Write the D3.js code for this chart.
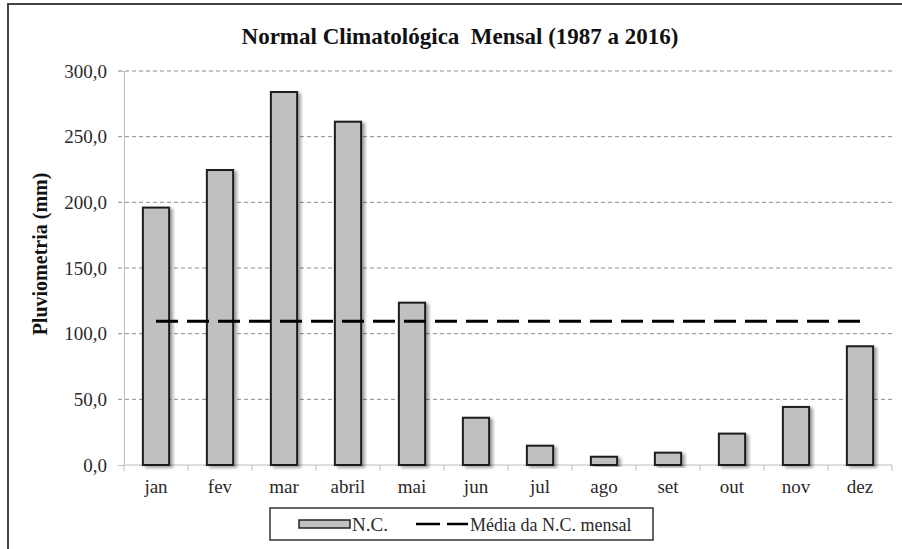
<!DOCTYPE html>
<html>
<head>
<meta charset="utf-8">
<script src="https://cdn.jsdelivr.net/npm/d3@7"></script>
<style>
  body { margin: 0; background: #fff; }
  svg { display: block; font-family: "Liberation Serif", "Times New Roman", serif; }
</style>
</head>
<body>
<svg id="chart" width="902" height="549"></svg>
<script>
// values
const months = ["jan", "fev", "mar", "abril", "mai", "jun", "jul", "ago", "set", "out", "nov", "dez"];
const rain = [196.0, 224.6, 284.0, 261.4, 123.6, 36.0, 14.7, 6.3, 9.4, 23.9, 44.2, 90.4];
const yTicks = [0, 50, 100, 150, 200, 250, 300];

const svg = d3.select("#chart");

// drop shadow for the bars
const defs = svg.append("defs");
defs.append("filter")
  .attr("id", "shadow")
  .attr("x", "-30%").attr("y", "-10%").attr("width", "160%").attr("height", "130%")
  .append("feDropShadow")
  .attr("dx", 3).attr("dy", 2)
  .attr("stdDeviation", 1.8)
  .attr("flood-color", "#000")
  .attr("flood-opacity", 0.35);

// outer frame
svg.append("rect")
  .attr("x", 8).attr("y", 4)
  .attr("width", 910).attr("height", 570)
  .attr("fill", "none")
  .attr("stroke", "#444")
  .attr("stroke-width", 2);

// scales
var x = d3.scaleBand()
  .domain(months)
  .range([124, 892])
  .paddingInner(0.59)
  .paddingOuter(0.295);

var y = d3.scaleLinear()
  .domain([0, 300])
  .range([465, 71]);

const fmt = v => d3.format(".1f")(v).replace(".", ",");

// gridlines (dashed), the 0 line is the axis
svg.append("g")
  .selectAll("line")
  .data(yTicks.filter(d => d > 0))
  .join("line")
  .attr("x1", 118).attr("x2", 892)
  .attr("y1", d => y(d)).attr("y2", d => y(d))
  .attr("stroke", "#8c8c8c")
  .attr("stroke-width", 1)
  .attr("stroke-dasharray", "4,3");

// y axis
var y_axis = d3.axisLeft(y)
  .tickValues(yTicks)
  .tickSize(6)
  .tickFormat(fmt);

const gy = svg.append("g")
  .attr("transform", "translate(124,0)")
  .call(y_axis);
gy.attr("font-family", null);
gy.select(".domain").attr("stroke", "#bdbdbd");
gy.selectAll(".tick line").attr("stroke", d => d === 0 ? "#bdbdbd" : "none");
gy.selectAll(".tick text")
  .attr("x", -17)
  .attr("font-size", 19)
  .attr("fill", "#2a2a2a");

// x axis: ticks on category boundaries
const step = x.step();
const bounds = d3.range(months.length + 1).map(i => 124 + i * step);
svg.append("line")
  .attr("x1", 124).attr("x2", 892)
  .attr("y1", y(0)).attr("y2", y(0))
  .attr("stroke", "#bdbdbd");
svg.append("g")
  .selectAll("line")
  .data(bounds)
  .join("line")
  .attr("x1", d => d).attr("x2", d => d)
  .attr("y1", y(0)).attr("y2", y(0) + 6)
  .attr("stroke", "#bdbdbd");

svg.append("g")
  .selectAll("text")
  .data(months)
  .join("text")
  .attr("x", d => x(d) + x.bandwidth() / 2)
  .attr("y", 493)
  .attr("text-anchor", "middle")
  .attr("font-size", 19)
  .attr("fill", "#2a2a2a")
  .text(d => d);

// bars
svg.append("g")
  .selectAll("rect")
  .data(months.map((m, i) => ({ m: m, v: rain[i] })))
  .join("rect")
  .attr("x", d => x(d.m))
  .attr("y", d => y(d.v))
  .attr("width", x.bandwidth())
  .attr("height", d => y(0) - y(d.v))
  .attr("fill", "#c0c0c0")
  .attr("stroke", "#1e1e1e")
  .attr("stroke-width", 2)
  .attr("filter", "url(#shadow)");

// monthly mean line
const mean = d3.mean(rain);
svg.append("line")
  .attr("x1", x(months[0]) + x.bandwidth() / 2)
  .attr("x2", x(months[months.length - 1]) + x.bandwidth() / 2)
  .attr("y1", y(mean)).attr("y2", y(mean))
  .attr("stroke", "#000")
  .attr("stroke-width", 3)
  .attr("stroke-dasharray", "22,9");

// title
svg.append("text")
  .attr("x", 460).attr("y", 44)
  .attr("text-anchor", "middle")
  .attr("font-size", 23)
  .attr("font-weight", "bold")
  .attr("fill", "#111")
  .style("white-space", "pre")
  .text("Normal Climatológica  Mensal (1987 a 2016)");

// y axis title
svg.append("text")
  .attr("transform", "translate(47,254) rotate(-90)")
  .attr("text-anchor", "middle")
  .attr("font-size", 20)
  .attr("font-weight", "bold")
  .attr("fill", "#111")
  .text("Pluviometria (mm)");

// legend
const lg = svg.append("g");
lg.append("rect")
  .attr("x", 270).attr("y", 508)
  .attr("width", 383).attr("height", 32)
  .attr("fill", "#fff")
  .attr("stroke", "#333")
  .attr("stroke-width", 1.5);
lg.append("rect")
  .attr("x", 299).attr("y", 520)
  .attr("width", 51).attr("height", 8)
  .attr("fill", "#c0c0c0")
  .attr("stroke", "#222")
  .attr("stroke-width", 1.5);
lg.append("text")
  .attr("x", 352).attr("y", 531)
  .attr("font-size", 19)
  .attr("fill", "#2a2a2a")
  .text("N.C.");
lg.append("line")
  .attr("x1", 416).attr("x2", 468)
  .attr("y1", 524).attr("y2", 524)
  .attr("stroke", "#000")
  .attr("stroke-width", 2.5)
  .attr("stroke-dasharray", "24,7");
lg.append("text")
  .attr("x", 470).attr("y", 531)
  .attr("font-size", 18)
  .attr("fill", "#2a2a2a")
  .text("Média da N.C. mensal");
</script>
</body>
</html>
